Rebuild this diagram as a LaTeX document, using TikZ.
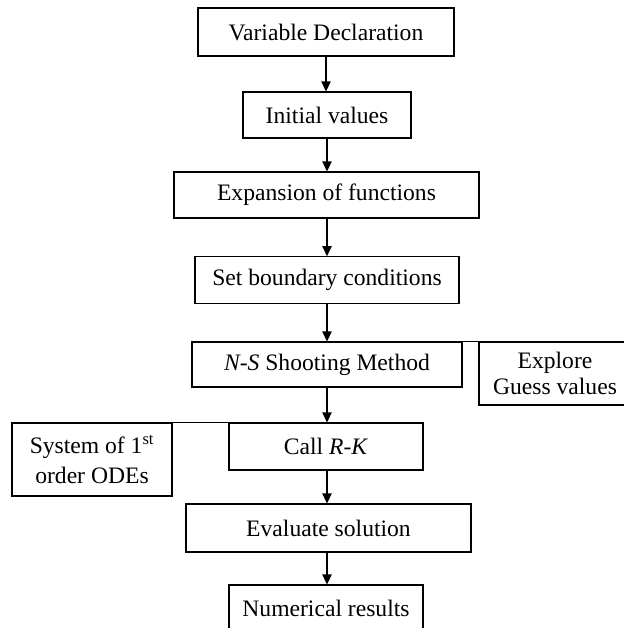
\documentclass[tikz,border=0pt]{standalone}
\usepackage{fontspec}
\setmainfont{Liberation Serif}
\usetikzlibrary{arrows.meta}
\begin{document}
\begin{tikzpicture}[x=0.75pt,y=-0.75pt,
  box/.style={draw, line width=0.8pt, inner sep=0pt, align=center,
    font=\fontsize{17.7}{19.5}\selectfont},
  arr/.style={line width=0.8pt, -{Triangle[length=7.5pt,width=7pt]}},
  conn/.style={line width=0.8pt}]
\useasboundingbox (0,0) rectangle (624,628);
\clip (0,0) rectangle (624,628);
\node[box, minimum width=192pt, minimum height=36pt] (var) at (326,32) {Variable Declaration};
\node[box, minimum width=126pt, minimum height=34.5pt] (init) at (327,115) {Initial values};
\node[box, minimum width=228.75pt, minimum height=34.5pt] (expf) at (326.5,195) {Expansion of functions};
\node[box, minimum width=198pt, minimum height=34.9pt] (setb) at (327,280) {Set boundary conditions};
\node[box, minimum width=202.5pt, minimum height=33.75pt] (ns) at (327,364.5) {\textit{N-S} Shooting Method};
\node[box, minimum width=114pt, minimum height=47.25pt] (expl) at (555,373.5) {Explore\\Guess values};
\node[box, minimum width=120pt, minimum height=54.75pt, font=\fontsize{17.7}{22.5}\selectfont] (sys) at (92,459.5) {System of 1\textsuperscript{st}\\order ODEs};
\node[box, minimum width=145.5pt, minimum height=35.25pt] (call) at (326,446.5) {Call \textit{R-K}};
\node[box, minimum width=213.75pt, minimum height=36pt] (eval) at (328.5,528) {Evaluate solution};
\node[box, minimum width=145.5pt, minimum height=34.5pt] (num) at (326,608) {Numerical results};

\draw[arr] (var.south) -- (var.south |- init.north);
\draw[arr] (init.south) -- (init.south |- expf.north);
\draw[arr] (init.south |- expf.south) -- (init.south |- setb.north);
\draw[arr] (setb.south) -- (setb.south |- ns.north);
\draw[arr] (ns.south) -- (ns.south |- call.north);
\draw[arr] (ns.south |- call.south) -- (ns.south |- eval.north);
\draw[arr] (ns.south |- eval.south) -- (ns.south |- num.north);
\draw[conn] (ns.north east) -- (expl.north west);
\draw[conn] (sys.north east) -- (call.north west);
\end{tikzpicture}
\end{document}
